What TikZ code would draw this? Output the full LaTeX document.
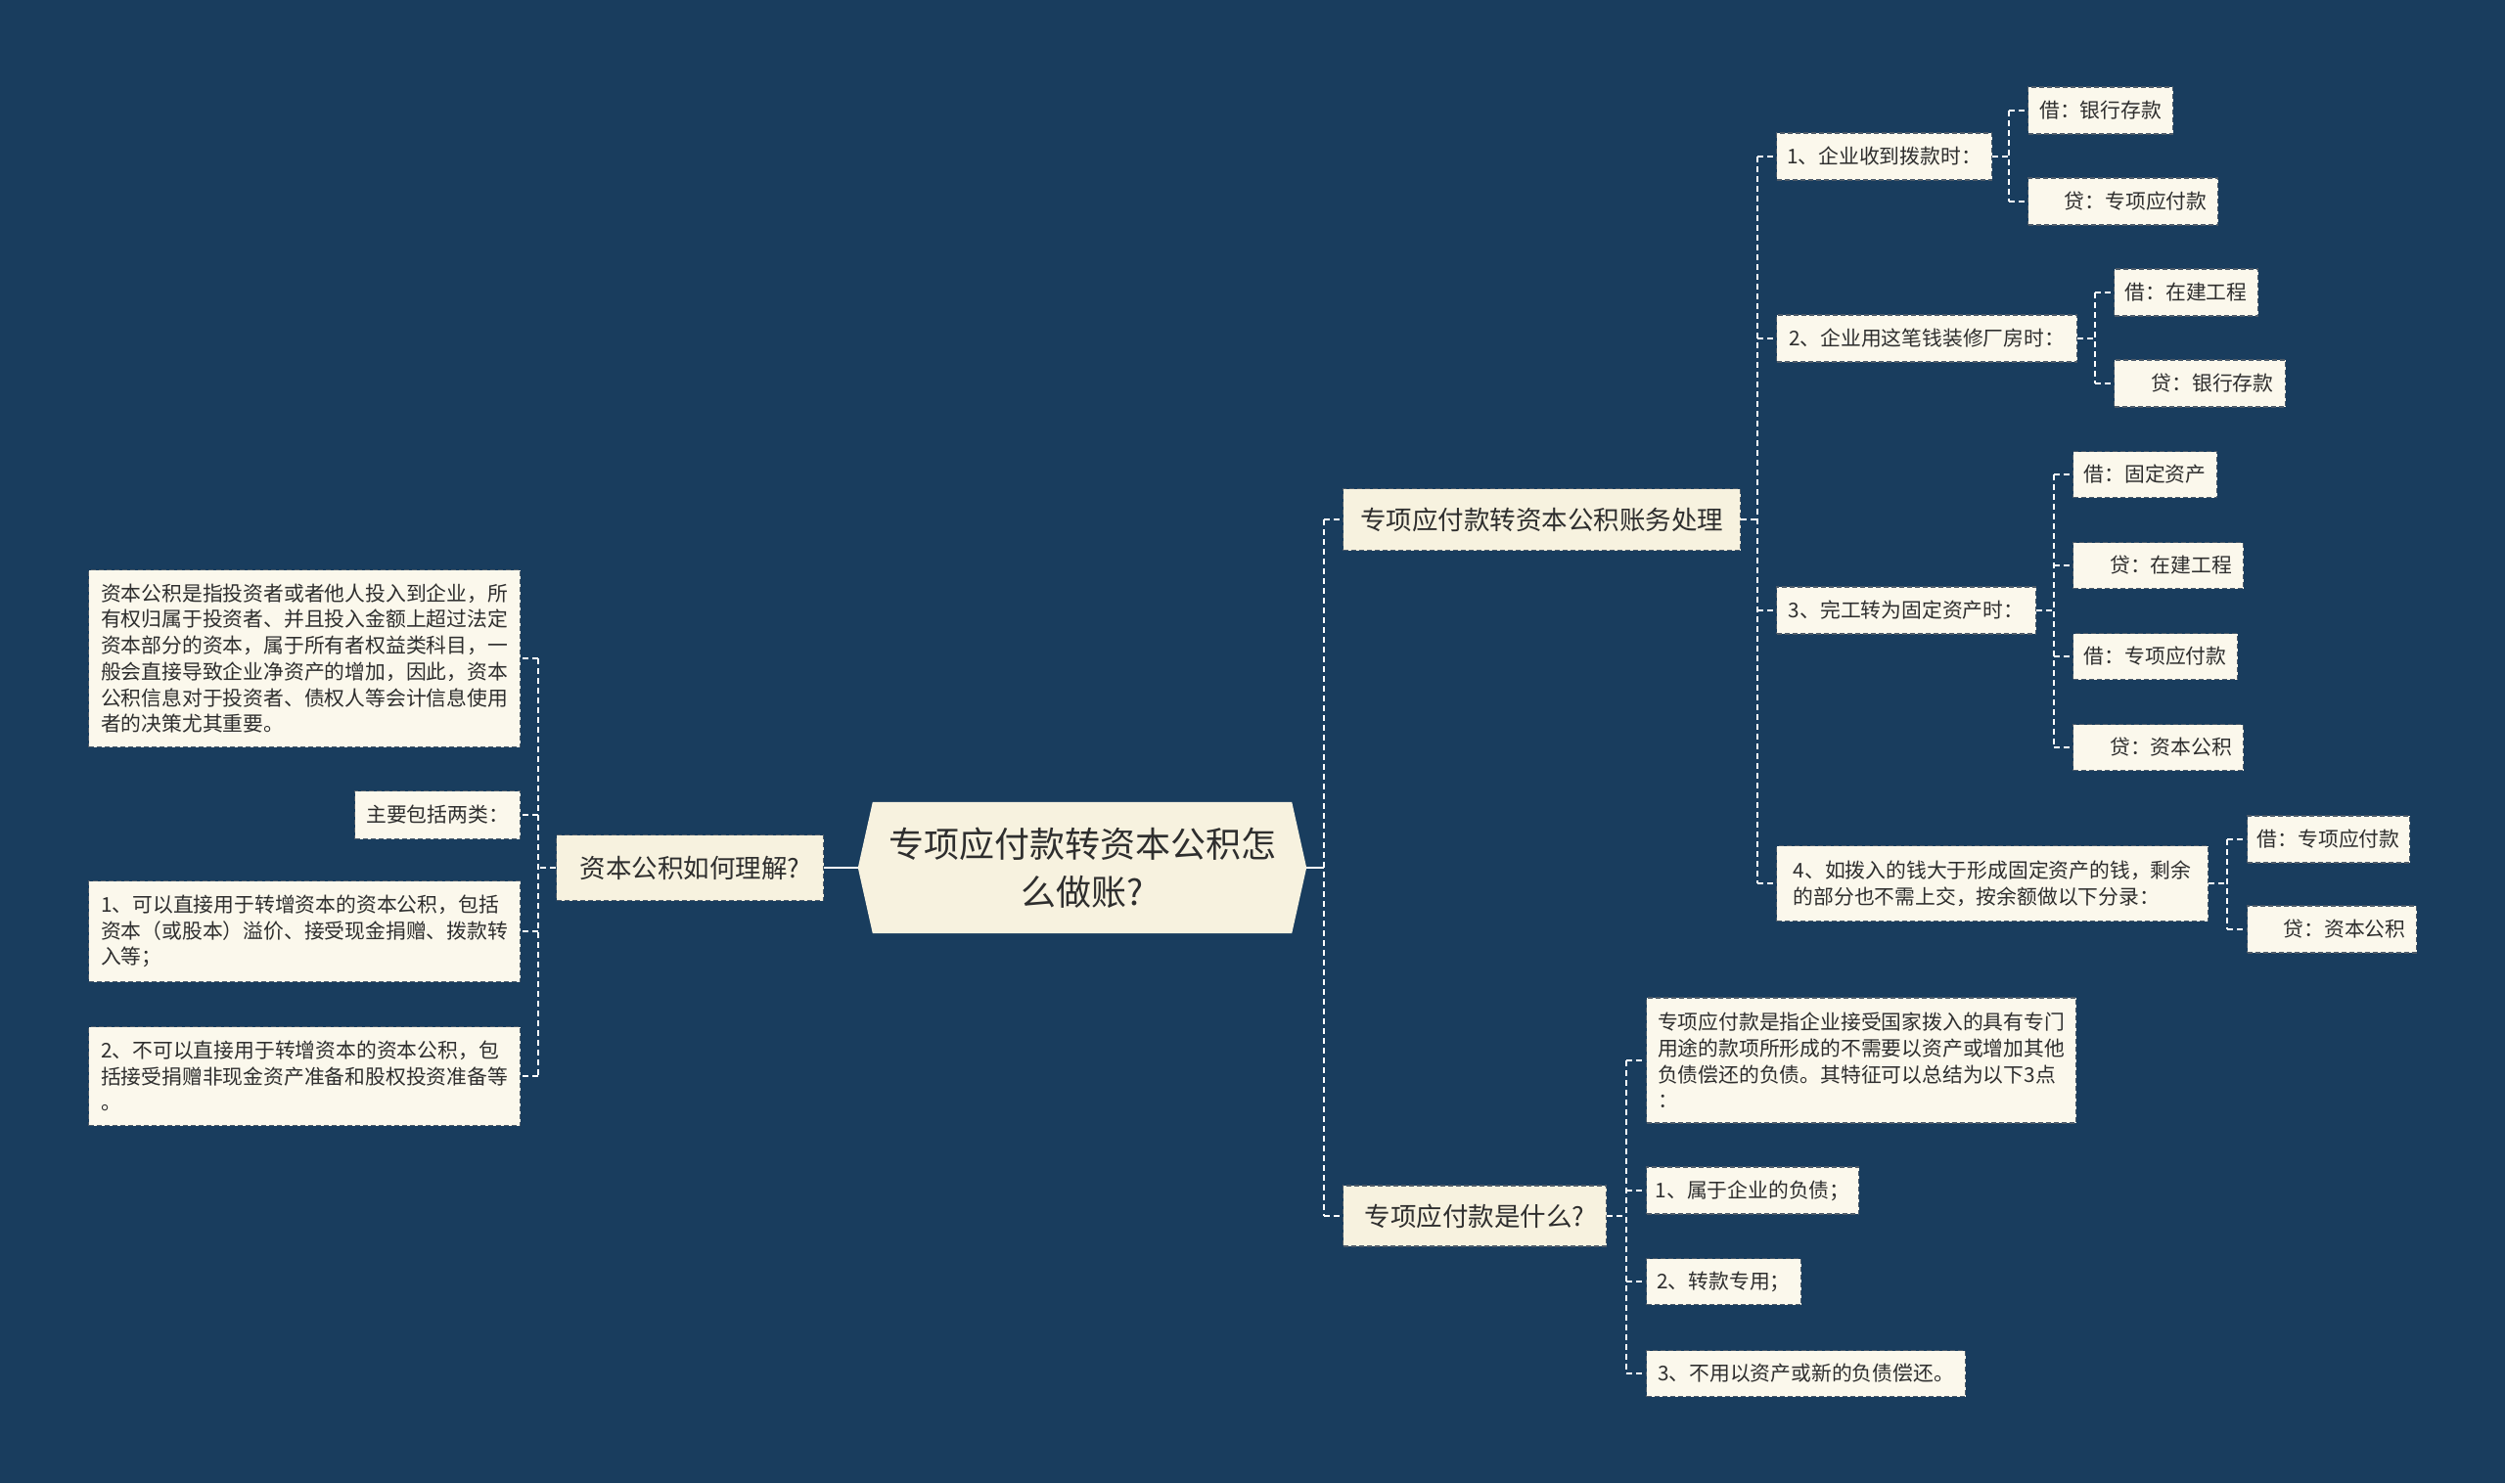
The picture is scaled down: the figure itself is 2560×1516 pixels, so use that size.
\documentclass[tikz,border=0pt]{standalone}
\usepackage{fontspec}
\setmainfont{Noto Sans CJK SC}
\definecolor{bgc}{HTML}{193D5E}
\definecolor{boxfill}{HTML}{FBF8EC}
\definecolor{rootfill}{HTML}{F7F2DF}
\definecolor{boxline}{HTML}{4C5A68}
\definecolor{txt}{HTML}{2E2E2E}
\pgfdeclarelayer{back}
\pgfsetlayers{back,main}
\begin{document}
\begin{tikzpicture}[x=1pt,y=-1pt,
  box/.style={draw=boxline, dash pattern=on 5pt off 3pt, line width=1.2pt, fill=boxfill,
    text=txt, font=\fontsize{20.8}{26.7}\selectfont, inner xsep=0pt, inner ysep=0pt,
    anchor=west, align=left},
  bigbox/.style={box, fill=rootfill, font=\fontsize{26.5}{32}\selectfont},
  conn/.style={draw=white, line width=2pt, dash pattern=on 6pt off 4pt},
  rootconn/.style={draw=white, line width=2.2pt}]
\begin{pgfonlayer}{back}
\fill[bgc] (0,0) rectangle (2560,1516);
\end{pgfonlayer}
\useasboundingbox (0,0) rectangle (2560,1516);

% root
\node[minimum width=428pt, minimum height=134pt, inner sep=0pt, align=center, text=txt,
  font=\fontsize{36}{49}\selectfont] (root) at (1106,887) {专项应付款转资本公积怎\\么做账?};
\begin{pgfonlayer}{back}
\fill[rootfill] (root.north west) -- (root.north east) -- ([xshift=15pt]root.east)
  -- (root.south east) -- (root.south west) -- ([xshift=-15pt]root.west) -- cycle;
\end{pgfonlayer}

% left branch
\node[bigbox, minimum width=273pt, minimum height=67pt] (L) at (568,887) {资本公积如何理解?};
\node[box, minimum width=441pt, minimum height=181pt] (Lt) at (90,673) {资本公积是指投资者或者他人投入到企业，所\\有权归属于投资者、并且投入金额上超过法定\\资本部分的资本，属于所有者权益类科目，一\\般会直接导致企业净资产的增加，因此，资本\\公积信息对于投资者、债权人等会计信息使用\\者的决策尤其重要。};
\node[box, minimum width=169pt, minimum height=49pt] (Lm) at (362,833) {主要包括两类：};
\node[box, minimum width=441pt, minimum height=103pt] (L1) at (90,952) {1、可以直接用于转增资本的资本公积，包括\\资本（或股本）溢价、接受现金捐赠、拨款转\\入等；};
\node[box, minimum width=441pt, minimum height=101pt] (L2) at (90,1100) {2、不可以直接用于转增资本的资本公积，包\\括接受捐赠非现金资产准备和股权投资准备等\\。};

% right level 1
\node[bigbox, minimum width=406pt, minimum height=63pt] (A) at (1372,531) {专项应付款转资本公积账务处理};
\node[bigbox, minimum width=269pt, minimum height=62pt] (B) at (1372,1243) {专项应付款是什么?};

% A children
\node[box, minimum width=220pt, minimum height=48pt] (A1) at (1815,160) {1、企业收到拨款时：};
\node[box, minimum width=307pt, minimum height=48pt] (A2) at (1815,346) {2、企业用这笔钱装修厂房时：};
\node[box, minimum width=265pt, minimum height=48pt] (A3) at (1815,624) {3、完工转为固定资产时：};
\node[box, minimum width=441pt, minimum height=77pt] (A4) at (1815,903) {4、如拨入的钱大于形成固定资产的钱，剩余\\的部分也不需上交，按余额做以下分录：};

\node[box, minimum width=148pt, minimum height=48pt] (A1a) at (2072,113) {借：银行存款};
\node[box, minimum width=194pt, minimum height=48pt] (A1b) at (2072,206) {\hspace*{1.25em}贷：专项应付款};
\node[box, minimum width=147pt, minimum height=48pt] (A2a) at (2160,299) {借：在建工程};
\node[box, minimum width=175pt, minimum height=48pt] (A2b) at (2160,392) {\hspace*{1.25em}贷：银行存款};
\node[box, minimum width=147pt, minimum height=47pt] (A3a) at (2118,485) {借：固定资产};
\node[box, minimum width=174pt, minimum height=47pt] (A3b) at (2118,578) {\hspace*{1.25em}贷：在建工程};
\node[box, minimum width=168pt, minimum height=47pt] (A3c) at (2118,671) {借：专项应付款};
\node[box, minimum width=174pt, minimum height=47pt] (A3d) at (2118,764) {\hspace*{1.25em}贷：资本公积};
\node[box, minimum width=166pt, minimum height=48pt] (A4a) at (2296,858) {借：专项应付款};
\node[box, minimum width=173pt, minimum height=48pt] (A4b) at (2296,950) {\hspace*{1.25em}贷：资本公积};

% B children
\node[box, minimum width=439pt, minimum height=128pt] (Bt) at (1682,1084) {专项应付款是指企业接受国家拨入的具有专门\\用途的款项所形成的不需要以资产或增加其他\\负债偿还的负债。其特征可以总结为以下3点\\：};
\node[box, minimum width=217pt, minimum height=48pt] (B1) at (1682,1217) {1、属于企业的负债；};
\node[box, minimum width=158pt, minimum height=47pt] (B2) at (1682,1310) {2、转款专用；};
\node[box, minimum width=326pt, minimum height=47pt] (B3) at (1682,1404) {3、不用以资产或新的负债偿还。};

% bracket x positions
\coordinate (xL) at (550,0);
\coordinate (xR) at (1353,0);
\coordinate (xA) at (1796,0);
\coordinate (x1) at (2053,0);
\coordinate (x2) at (2141,0);
\coordinate (x3) at (2099,0);
\coordinate (x4) at (2276,0);
\coordinate (xB) at (1662,0);

% root connectors
\draw[rootconn] ([xshift=-15pt]root.west) -- (L.east);
\draw[rootconn] ([xshift=15pt]root.east) -- (root.east -| xR);

% left bracket
\draw[conn] (L.west) -- (L.west -| xL);
\draw[conn] (Lt.east -| xL) -- (L2.east -| xL);
\foreach \n in {Lt,Lm,L1,L2} \draw[conn] (\n.east -| xL) -- (\n.east);

% right root bracket
\draw[conn] (A.west -| xR) -- (B.west -| xR);
\foreach \n in {A,B} \draw[conn] (\n.west -| xR) -- (\n.west);

% A bracket
\draw[conn] (A.east) -- (A.east -| xA);
\draw[conn] (A1.west -| xA) -- (A4.west -| xA);
\foreach \n in {A1,A2,A3,A4} \draw[conn] (\n.west -| xA) -- (\n.west);

% A1..A4 brackets
\draw[conn] (A1.east) -- (A1.east -| x1);
\draw[conn] (A1a.west -| x1) -- (A1b.west -| x1);
\foreach \n in {A1a,A1b} \draw[conn] (\n.west -| x1) -- (\n.west);

\draw[conn] (A2.east) -- (A2.east -| x2);
\draw[conn] (A2a.west -| x2) -- (A2b.west -| x2);
\foreach \n in {A2a,A2b} \draw[conn] (\n.west -| x2) -- (\n.west);

\draw[conn] (A3.east) -- (A3.east -| x3);
\draw[conn] (A3a.west -| x3) -- (A3d.west -| x3);
\foreach \n in {A3a,A3b,A3c,A3d} \draw[conn] (\n.west -| x3) -- (\n.west);

\draw[conn] (A4.east) -- (A4.east -| x4);
\draw[conn] (A4a.west -| x4) -- (A4b.west -| x4);
\foreach \n in {A4a,A4b} \draw[conn] (\n.west -| x4) -- (\n.west);

% B bracket
\draw[conn] (B.east) -- (B.east -| xB);
\draw[conn] (Bt.west -| xB) -- (B3.west -| xB);
\foreach \n in {Bt,B1,B2,B3} \draw[conn] (\n.west -| xB) -- (\n.west);
\end{tikzpicture}
\end{document}
